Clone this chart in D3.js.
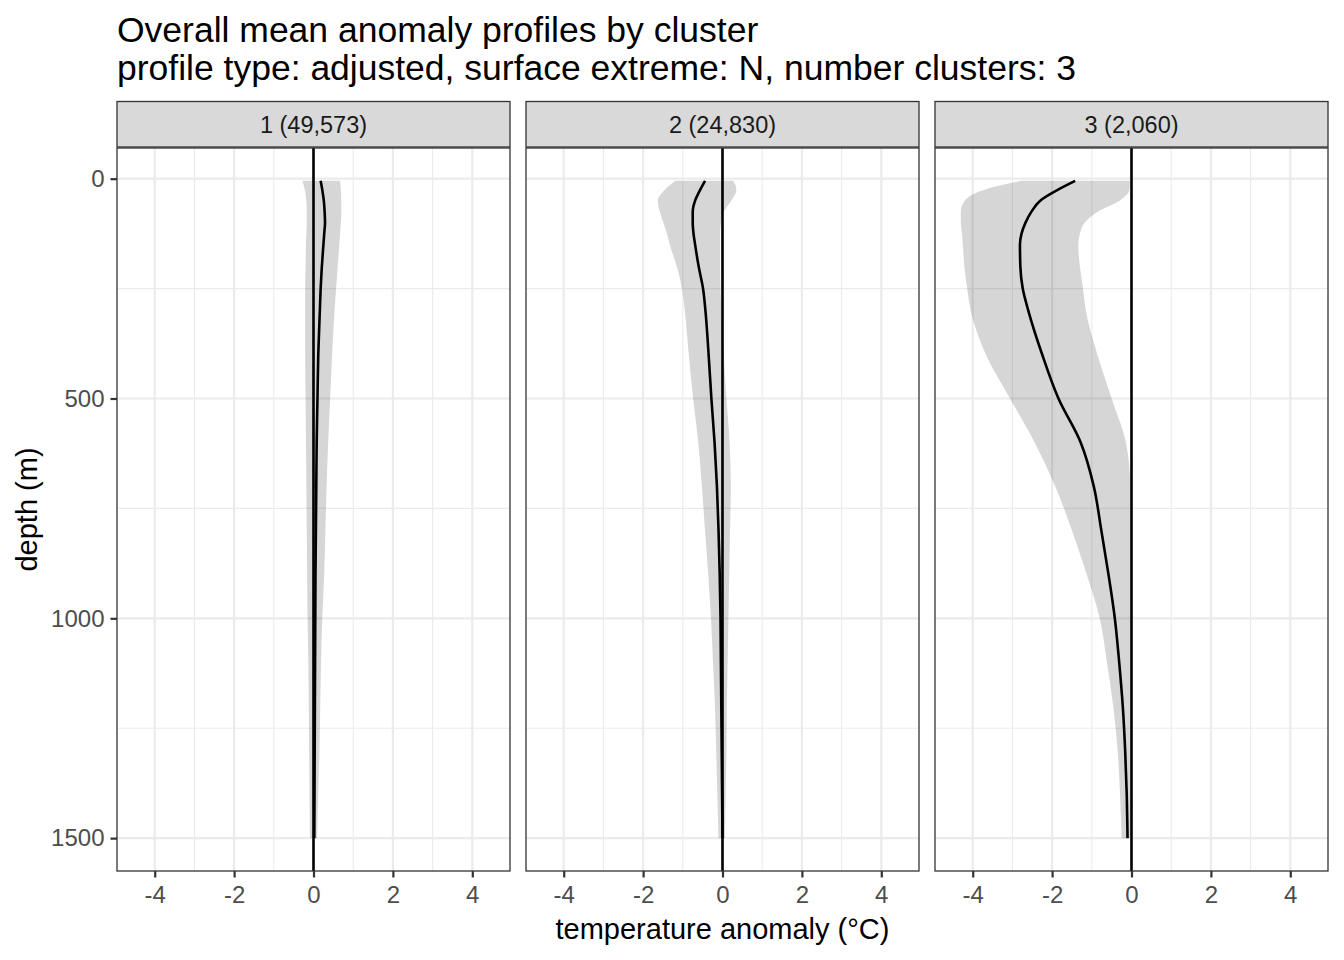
<!DOCTYPE html>
<html>
<head>
<meta charset="utf-8">
<script src="https://cdn.jsdelivr.net/npm/d3@7"></script>
<style>
  body { margin: 0; background: #fff; }
  text { font-family: "Liberation Sans", Arial, sans-serif; }
</style>
</head>
<body>
<script>
// chart data
var depths = [5, 25, 50, 75, 100, 125, 150, 200, 250, 300, 400, 500, 600, 700, 800, 900, 1000, 1100, 1200, 1300, 1400, 1500];
var clusters = ["1 (49,573)", "2 (24,830)", "3 (2,060)"];

var mean1 = [0.18, 0.22, 0.26, 0.28, 0.29, 0.27, 0.25, 0.21, 0.18, 0.16, 0.12, 0.10, 0.08, 0.07, 0.06, 0.05, 0.045, 0.04, 0.035, 0.03, 0.025, 0.02];
var low1  = [-0.28, -0.22, -0.18, -0.17, -0.17, -0.18, -0.19, -0.20, -0.21, -0.21, -0.21, -0.20, -0.19, -0.18, -0.17, -0.16, -0.15, -0.13, -0.12, -0.11, -0.10, -0.09];
var high1 = [0.67, 0.69, 0.70, 0.70, 0.69, 0.67, 0.65, 0.61, 0.57, 0.53, 0.47, 0.42, 0.37, 0.33, 0.30, 0.27, 0.22, 0.19, 0.17, 0.15, 0.12, 0.09];

var mean2 = [-0.44, -0.56, -0.69, -0.75, -0.75, -0.73, -0.69, -0.60, -0.49, -0.43, -0.35, -0.28, -0.20, -0.14, -0.10, -0.07, -0.05, -0.04, -0.03, -0.02, -0.01, 0.0];
var low2  = [-1.19, -1.45, -1.63, -1.58, -1.49, -1.40, -1.33, -1.15, -1.02, -0.95, -0.85, -0.74, -0.61, -0.52, -0.44, -0.36, -0.29, -0.24, -0.19, -0.16, -0.13, -0.10];
var high2 = [0.27, 0.35, 0.22, 0.03, -0.04, -0.06, -0.06, -0.06, -0.05, -0.03, 0.03, 0.10, 0.18, 0.21, 0.19, 0.17, 0.15, 0.13, 0.11, 0.10, 0.08, 0.06];

var mean3 = [-1.42, -1.85, -2.30, -2.52, -2.67, -2.77, -2.81, -2.80, -2.74, -2.60, -2.25, -1.84, -1.28, -0.95, -0.76, -0.58, -0.42, -0.31, -0.22, -0.16, -0.12, -0.10];
var low3  = [-2.77, -3.70, -4.20, -4.30, -4.30, -4.27, -4.25, -4.21, -4.14, -4.05, -3.67, -3.06, -2.44, -1.92, -1.50, -1.13, -0.80, -0.62, -0.46, -0.35, -0.29, -0.25];
var high3 = [-0.04, -0.05, -0.30, -0.85, -1.18, -1.30, -1.34, -1.30, -1.22, -1.15, -0.86, -0.50, -0.14, -0.03, -0.02, -0.02, -0.02, -0.02, -0.02, -0.02, -0.02, -0.02];

var xTicks = [-4, -2, 0, 2, 4];
var xMinor = [-3, -1, 1, 3];
var yTicks = [0, 500, 1000, 1500];
var yMinor = [250, 750, 1250];

var series = [
  { mean: mean1, low: low1, high: high1 },
  { mean: mean2, low: low2, high: high2 },
  { mean: mean3, low: low3, high: high3 }
];

var W = 1344, H = 960;
var panelX = [117, 526, 935], panelW = 393;
var plotTop = 148, plotBottom = 871;

var svg = d3.select("body").append("svg").attr("width", W).attr("height", H);

// titles
svg.append("text").attr("x", 117).attr("y", 42).attr("font-size", 35.5).attr("fill", "#000")
  .text("Overall mean anomaly profiles by cluster");
svg.append("text").attr("x", 117).attr("y", 80).attr("font-size", 35.5).attr("fill", "#000")
  .text("profile type: adjusted, surface extreme: N, number clusters: 3");

var y = d3.scaleLinear().domain([-69.75, 1574.75]).range([plotTop, plotBottom]);

clusters.forEach(function (name, i) {
  var x = d3.scaleLinear().domain([-4.95, 4.95]).range([panelX[i], panelX[i] + panelW]);
  var g = svg.append("g");
  var s = series[i];
  var rows = depths.map(function (d, k) { return { d: d, m: s.mean[k], lo: s.low[k], hi: s.high[k] }; });

  // background grid
  g.selectAll(".vmin").data(xMinor).enter().append("line")
    .attr("x1", function (d) { return x(d); }).attr("x2", function (d) { return x(d); })
    .attr("y1", plotTop).attr("y2", plotBottom).attr("stroke", "#ebebeb").attr("stroke-width", 1.1);
  g.selectAll(".hmin").data(yMinor).enter().append("line")
    .attr("y1", function (d) { return y(d); }).attr("y2", function (d) { return y(d); })
    .attr("x1", panelX[i]).attr("x2", panelX[i] + panelW).attr("stroke", "#ebebeb").attr("stroke-width", 1.1);
  g.selectAll(".vmaj").data(xTicks).enter().append("line")
    .attr("x1", function (d) { return x(d); }).attr("x2", function (d) { return x(d); })
    .attr("y1", plotTop).attr("y2", plotBottom).attr("stroke", "#ebebeb").attr("stroke-width", 2.2);
  g.selectAll(".hmaj").data(yTicks).enter().append("line")
    .attr("y1", function (d) { return y(d); }).attr("y2", function (d) { return y(d); })
    .attr("x1", panelX[i]).attr("x2", panelX[i] + panelW).attr("stroke", "#ebebeb").attr("stroke-width", 2.2);

  // ribbon
  var area = d3.area().curve(d3.curveMonotoneY)
    .y(function (r) { return y(r.d); })
    .x0(function (r) { return x(r.lo); })
    .x1(function (r) { return x(r.hi); });
  g.append("path").datum(rows).attr("d", area).attr("fill", "#000").attr("fill-opacity", 0.16);

  // zero line
  g.append("line").attr("x1", x(0)).attr("x2", x(0)).attr("y1", plotTop).attr("y2", plotBottom)
    .attr("stroke", "#000").attr("stroke-width", 2.6);

  // mean profile
  var line = d3.line().curve(d3.curveMonotoneY)
    .y(function (r) { return y(r.d); })
    .x(function (r) { return x(r.m); });
  g.append("path").datum(rows).attr("d", line).attr("fill", "none")
    .attr("stroke", "#000").attr("stroke-width", 2.6);

  // panel border
  g.append("rect").attr("x", panelX[i]).attr("y", plotTop).attr("width", panelW).attr("height", plotBottom - plotTop)
    .attr("fill", "none").attr("stroke", "#333").attr("stroke-width", 1.3);

  // strip
  g.append("rect").attr("x", panelX[i]).attr("y", 101.5).attr("width", panelW).attr("height", 45.5)
    .attr("fill", "#d9d9d9").attr("stroke", "#333").attr("stroke-width", 1.3);
  g.append("text").attr("x", panelX[i] + panelW / 2).attr("y", 133).attr("text-anchor", "middle")
    .attr("font-size", 23.5).attr("fill", "#1a1a1a").text(name);

  // x axis
  var xa = svg.append("g").attr("transform", "translate(0," + plotBottom + ")")
    .call(d3.axisBottom(x).tickValues(xTicks).tickSize(6.5).tickPadding(8).tickFormat(d3.format("d")));
  xa.select(".domain").remove();
  xa.selectAll("line").attr("stroke", "#333").attr("stroke-width", 2.2);
  xa.selectAll("text").attr("font-size", 24).attr("fill", "#4d4d4d")
    .style("font-family", "'Liberation Sans', Arial, sans-serif")
    .text(function (d) { return d < 0 ? "-" + Math.abs(d) : d; });
});

// y axis (first panel only)
var ya = svg.append("g").attr("transform", "translate(" + panelX[0] + ",0)")
  .call(d3.axisLeft(y).tickValues(yTicks).tickSize(6.5).tickPadding(6).tickFormat(d3.format("d")));
ya.select(".domain").remove();
ya.selectAll("line").attr("stroke", "#333").attr("stroke-width", 2.2);
ya.selectAll("text").attr("font-size", 24).attr("fill", "#4d4d4d")
  .style("font-family", "'Liberation Sans', Arial, sans-serif");

// axis titles
svg.append("text").attr("x", (panelX[0] + panelX[2] + panelW) / 2).attr("y", 939)
  .attr("text-anchor", "middle").attr("font-size", 29).attr("fill", "#000")
  .text("temperature anomaly (°C)");
svg.append("text").attr("transform", "translate(37," + (plotTop + plotBottom) / 2 + ") rotate(-90)")
  .attr("text-anchor", "middle").attr("font-size", 29).attr("fill", "#000")
  .text("depth (m)");
</script>
</body>
</html>
